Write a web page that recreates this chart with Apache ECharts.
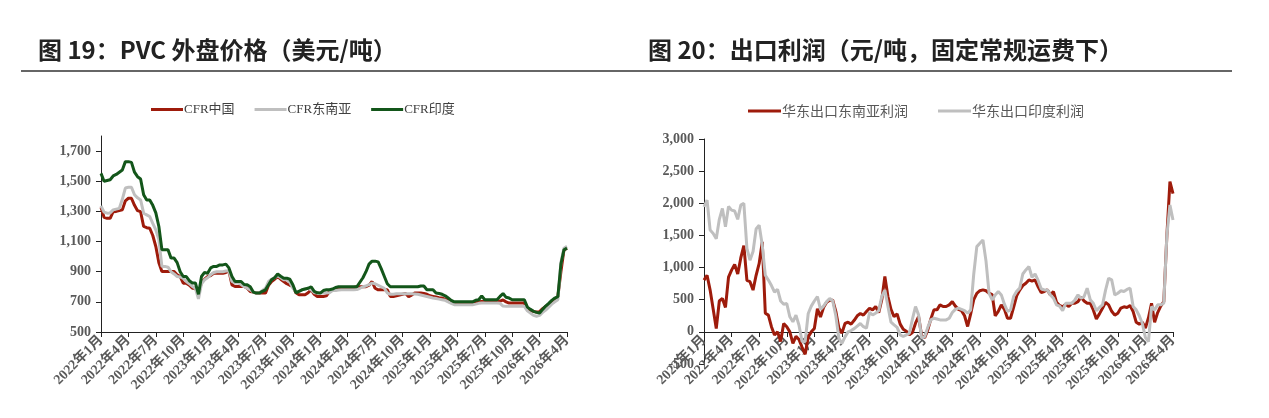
<!DOCTYPE html>
<html>
<head>
<meta charset="utf-8">
<script src="https://cdn.jsdelivr.net/npm/echarts@6/dist/echarts.min.js"></script>
<style>
html,body{margin:0;padding:0;background:#fff;}
#chart{width:1269px;height:418px;}
</style>
</head>
<body>
<div id="chart"></div>
<script>
// 3 points per month (1st, 11th, 21st), 2022-01-01 .. 2026-04-01
var tickLabels = ['2022年1月','2022年4月','2022年7月','2022年10月','2023年1月','2023年4月','2023年7月','2023年10月',
  '2024年1月','2024年4月','2024年7月','2024年10月','2025年1月','2025年4月','2025年7月','2025年10月','2026年1月','2026年4月'];

var dates = [];
for (var y = 2022; y <= 2026; y++) {
  for (var m = 1; m <= 12; m++) {
    if (y == 2026 && m > 4) break;
    var mm = (m < 10 ? '0' : '') + m;
    dates.push(y + '-' + mm + '-01');
    if (y == 2026 && m == 4) break;
    dates.push(y + '-' + mm + '-11');
    dates.push(y + '-' + mm + '-21');
  }
}

// 图19 PVC外盘价格 (美元/吨)
var cfrChina = [
  1327,1260,1254,1254,1298,1300,1305,1310,1370,1387,
  1387,1340,1305,1298,1200,1192,1188,1140,1067,960,
  901,901,901,901,901,880,868,824,824,810,
  791,791,747,830,850,868,875,890,890,890,
  890,895,905,813,802,802,802,802,790,769,
  765,758,758,758,758,810,835,850,868,850,
  835,820,810,802,760,747,747,747,760,780,
  750,736,736,736,740,769,780,780,785,790,
  790,790,790,795,800,800,800,800,810,835,
  790,780,780,780,780,736,736,740,745,750,
  755,735,745,758,758,758,755,750,740,736,
  732,728,725,718,705,695,692,692,692,692,
  692,692,692,695,700,703,703,703,703,703,
  703,705,712,700,692,692,692,692,692,692,
  648,640,637,632,635,655,670,685,692,705,
  736,900,1045,1056];
var cfrSEA = [
  1336,1295,1288,1290,1310,1315,1320,1380,1455,1460,
  1460,1410,1390,1376,1288,1277,1266,1220,1177,1111,
  935,935,930,900,885,868,865,855,835,820,
  802,790,720,820,846,860,880,895,900,900,
  900,905,905,835,825,825,815,800,790,780,
  765,758,760,775,790,835,850,860,873,860,
  846,846,830,790,769,770,780,785,790,780,
  760,758,758,758,758,760,775,775,778,780,
  780,780,780,780,782,790,800,805,815,824,
  820,810,800,790,760,750,750,754,754,754,
  754,754,754,752,750,745,740,735,730,725,
  722,718,714,710,700,690,681,681,681,681,
  681,681,681,685,690,692,692,692,692,692,
  692,690,672,670,670,670,670,670,670,670,
  640,625,610,605,610,630,645,665,685,700,
  714,960,1056,1068];
var cfrIndia = [
  1552,1500,1505,1510,1535,1545,1560,1575,1630,1630,
  1625,1560,1530,1515,1410,1375,1375,1340,1290,1200,
  1045,1045,1045,990,990,960,900,868,868,840,
  825,825,750,868,895,890,925,935,935,945,
  945,950,925,868,835,835,835,815,813,800,
  765,758,758,770,780,813,846,860,885,870,
  857,857,850,813,760,770,780,785,790,800,
  770,760,758,775,780,780,785,795,800,800,
  800,800,800,800,800,830,860,900,950,970,
  970,965,920,870,820,800,800,800,800,800,
  800,800,800,800,800,805,805,780,780,780,
  758,755,750,740,725,710,700,700,700,700,
  700,700,700,710,714,740,714,714,714,714,
  714,736,755,730,725,714,714,714,714,714,
  665,650,637,630,626,650,672,690,710,725,
  735,950,1045,1056];

// 图20 出口利润 (元/吨)
var profitSEA = [
  805,880,650,350,52,480,520,380,850,960,
  1050,900,1150,1340,800,780,650,880,1064,1400,
  290,260,80,-50,0,-150,130,80,0,-180,
  -70,-120,-240,-350,-78,0,52,360,230,380,
  460,493,493,320,60,-20,130,150,120,180,
  250,285,260,316,368,342,394,300,500,860,
  550,350,238,280,120,40,10,-47,-10,135,
  238,-60,-90,30,200,342,342,420,394,394,
  420,470,400,350,330,250,83,280,500,600,
  640,653,640,601,580,250,320,420,350,212,
  212,380,560,650,720,756,808,790,808,700,
  610,627,653,575,627,460,410,390,430,394,
  445,445,471,540,480,445,445,340,200,280,
  368,460,420,320,260,290,370,390,380,410,
  316,150,120,150,60,220,445,150,300,400,
  470,1500,2336,2150];
var profitIndia = [
  1946,2050,1583,1531,1450,1750,1920,1635,1950,1894,
  1880,1750,1972,2000,1300,1115,1250,1600,1660,1350,
  880,805,720,620,660,480,430,441,234,156,
  260,100,-150,-150,285,400,480,550,350,400,
  470,519,480,250,-100,-180,-78,0,20,50,
  90,130,80,57,300,264,290,330,550,650,
  400,150,109,70,-47,-73,-47,-21,200,394,
  264,-98,-73,70,186,212,200,186,186,186,
  212,300,350,368,350,330,290,342,900,1326,
  1378,1430,1100,600,497,575,627,575,430,320,
  342,550,630,680,900,963,1015,850,900,800,
  670,653,653,575,523,420,400,330,445,445,
  445,497,575,523,549,679,500,445,330,380,
  420,650,834,808,575,601,640,627,660,679,
  394,342,250,130,-90,-150,394,342,420,420,
  445,1500,1974,1740];

var leftTicks = [500,700,900,1100,1300,1500,1700];

var RED = '#9E1B0B', GRAY = '#BFBFBF', GREEN = '#13561A';
var serif = 'Liberation Serif, Noto Sans CJK SC';
var labelColor = '#595959';

function quarterTick(index) { return index % 9 === 0; }
function quarterLabel(value, index) { return tickLabels[Math.round(index / 9)]; }
function thousands(v) { return echarts.format.addCommas(v); }

// right chart: x axis sits on the 0 line (-500..3000 over 225px -> 0 is 32px above the bottom)
function xAxisCfg(gridIndex, offset) {
  return {
    type: 'category', gridIndex: gridIndex, data: dates, boundaryGap: false, offset: offset,
    axisLine: { onZero: false, lineStyle: { color: '#222', width: 1 } },
    axisTick: { interval: quarterTick, length: 5, lineStyle: { color: '#222' } },
    axisLabel: { interval: quarterTick, formatter: quarterLabel, rotate: 45, margin: 6,
      color: labelColor, fontFamily: serif, fontSize: 14, fontWeight: 'bold' }
  };
}

function lineSeries(name, data, color, xi, yi) {
  return { name: name, type: 'line', xAxisIndex: xi, yAxisIndex: yi, data: data,
    showSymbol: false, symbol: 'none', smooth: false, z: 3,
    lineStyle: { color: color, width: 3 }, itemStyle: { color: color } };
}

var titleStyle = { fontSize: 24, fontWeight: 'bold', color: '#222', fontFamily: 'Noto Sans CJK SC' };

var option = {
  backgroundColor: '#fff',
  animation: false,
  title: [
    { text: '图 19：PVC 外盘价格（美元/吨）', left: 33, top: 33, textStyle: titleStyle },
    { text: '图 20：出口利润（元/吨，固定常规运费下）', left: 643, top: 33, textStyle: titleStyle }
  ],
  graphic: [
    { type: 'line', shape: { x1: 21, y1: 71, x2: 1232, y2: 71 }, style: { stroke: '#666', lineWidth: 2 } }
  ],
  legend: [
    { data: ['CFR中国', 'CFR东南亚', 'CFR印度'], left: 146, top: 98, icon: 'rect',
      itemWidth: 32, itemHeight: 3, itemGap: 20,
      textStyle: { color: '#404040', fontFamily: serif, fontSize: 13, padding: [0, 0, 0, -4] } },
    { data: ['华东出口东南亚利润', '华东出口印度利润'], left: 743, top: 99, icon: 'rect',
      itemWidth: 33, itemHeight: 3, itemGap: 30,
      textStyle: { color: '#595959', fontFamily: 'Noto Sans CJK SC', fontSize: 14, padding: [0, 0, 0, -4] } }
  ],
  grid: [
    { left: 101, top: 136, width: 466, height: 196, containLabel: false, outerBoundsMode: 'none' },
    { left: 704, top: 139, width: 469, height: 225, containLabel: false, outerBoundsMode: 'none' }
  ],
  xAxis: [xAxisCfg(0, 0), xAxisCfg(1, -32)],
  yAxis: [
    { type: 'value', gridIndex: 0, min: 500, max: 1800, interval: 100,
      splitLine: { show: false },
      axisLine: { show: true, lineStyle: { color: '#222' } },
      axisTick: { show: true, length: 5, customValues: leftTicks, lineStyle: { color: '#222' } },
      axisLabel: { customValues: leftTicks, formatter: thousands, color: labelColor,
        fontFamily: serif, fontSize: 14, fontWeight: 'bold', margin: 10 } },
    { type: 'value', gridIndex: 1, min: -500, max: 3000, interval: 500,
      splitLine: { show: false },
      axisLine: { show: true, onZero: false, lineStyle: { color: '#222' } },
      axisTick: { show: true, length: 5, lineStyle: { color: '#222' } },
      axisLabel: { formatter: thousands, color: labelColor,
        fontFamily: serif, fontSize: 14, fontWeight: 'bold', margin: 10 } }
  ],
  series: [
    lineSeries('CFR中国', cfrChina, RED, 0, 0),
    lineSeries('CFR东南亚', cfrSEA, GRAY, 0, 0),
    lineSeries('CFR印度', cfrIndia, GREEN, 0, 0),
    lineSeries('华东出口东南亚利润', profitSEA, RED, 1, 1),
    lineSeries('华东出口印度利润', profitIndia, GRAY, 1, 1)
  ]
};

var myChart = echarts.init(document.getElementById('chart'));
myChart.setOption(option);
</script>
</body>
</html>
